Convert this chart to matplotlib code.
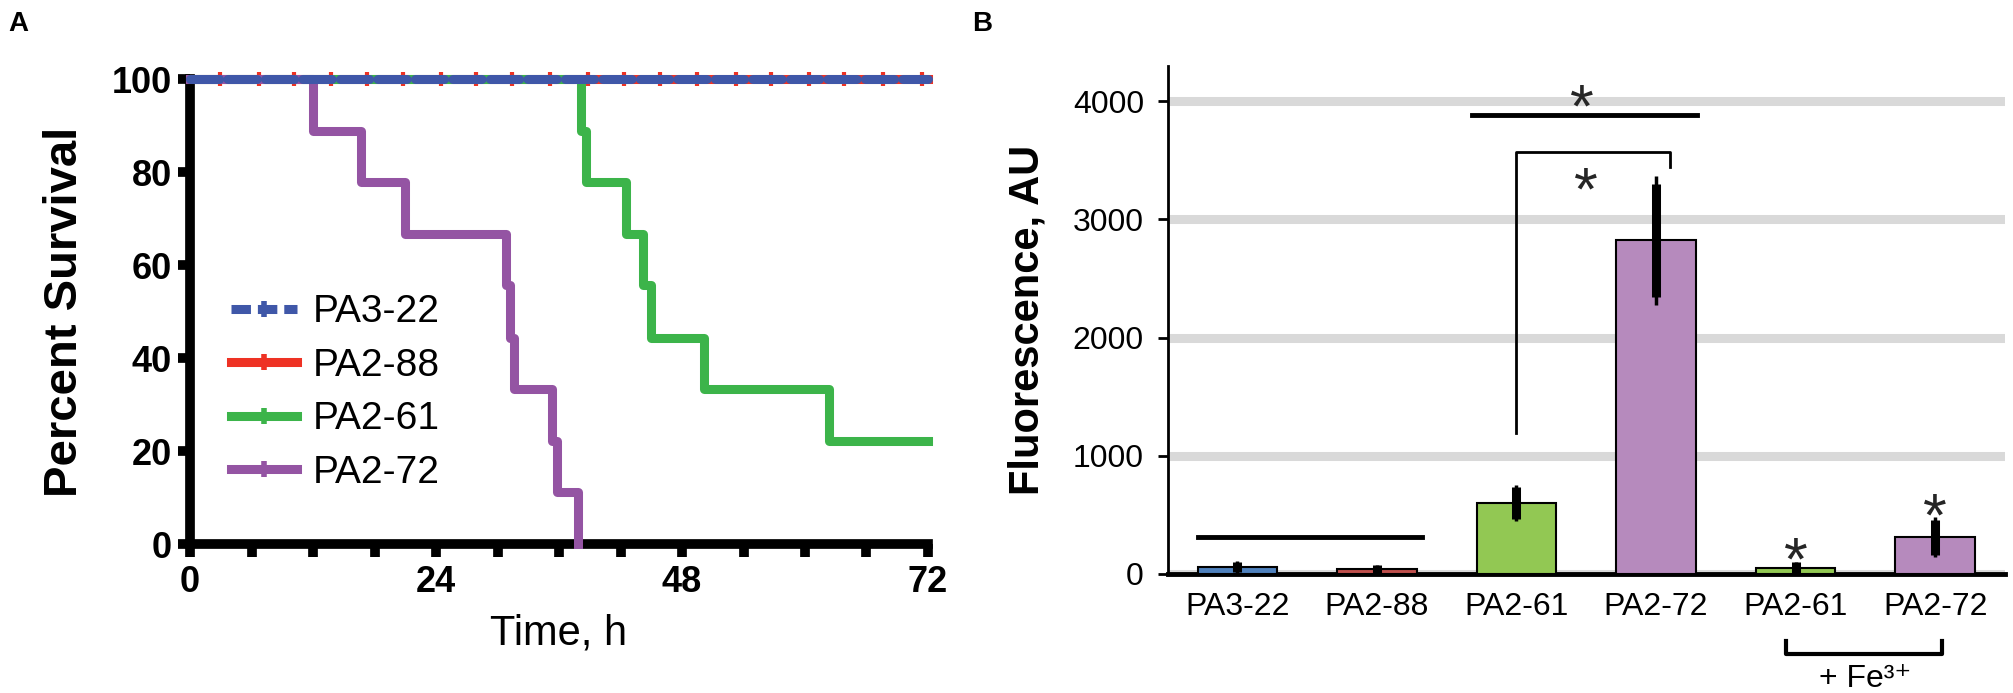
import numpy as np
import matplotlib
matplotlib.use("Agg")
import matplotlib.pyplot as plt
import matplotlib.transforms as mtransforms
from matplotlib.lines import Line2D

plt.rcParams['font.family'] = ['Liberation Sans', 'DejaVu Sans']
plt.rcParams['lines.scale_dashes'] = False

#===================== Panel A data (Kaplan-Meier) =====================
strains = ["PA3-22", "PA2-88", "PA2-61", "PA2-72"]
km_colors = ["#3f57a8", "#ee3224", "#3cb44a", "#9454a3"]

t_pa322 = [0, 72]
s_pa322 = [100, 100]
t_pa288 = [0, 72]
s_pa288 = [100, 100]
# censor ticks visible along the 100% line
cens_pa288 = [2.9, 6.7, 10.1, 13.8, 17.3, 20.8, 24.5, 27.9, 31.4, 35.1,
              38.8, 42.3, 45.9, 49.5, 53.3, 56.7, 60.4, 63.8, 67.6, 71.4]
t_pa261 = [0, 38.1, 38.6, 42.5, 44.2, 45.0, 50.1, 62.3, 72]
s_pa261 = [100, 88.9, 77.8, 66.7, 55.6, 44.4, 33.3, 22.2, 22.2]
t_pa272 = [0, 12.0, 16.7, 21.0, 30.8, 31.2, 31.6, 35.3, 35.8, 37.9]
s_pa272 = [100, 88.9, 77.8, 66.7, 55.6, 44.4, 33.3, 22.2, 11.1, 0]

#===================== Panel B data (fluorescence) =====================
bar_labels = ["PA3-22", "PA2-88", "PA2-61", "PA2-72", "PA2-61", "PA2-72"]
bar_values = [56, 37, 598, 2822, 49, 310]
bar_errors = [50, 38, 155, 545, 55, 168]
bar_colors = ["#4f81bd", "#c0504d", "#92c853", "#b68abd", "#92c853", "#b68abd"]
# significance stars (glyph centres)
star_x = [2.47, 2.5, 4.0, 5.0]
star_y = [4080, 3383, 243, 617]

#===================== Figure =====================
fig = plt.figure(figsize=(20.13, 6.93), dpi=100)

#----- Panel A -----
ax1 = fig.add_axes([0.0944, 0.215, 0.3666, 0.671])
lw = 6.5
ax1.step(t_pa288, s_pa288, where='post', color=km_colors[1], lw=lw, clip_on=False, zorder=3)
ax1.plot(cens_pa288, [100] * len(cens_pa288), ls='none', marker='|', ms=10, mew=3,
         color=km_colors[1], clip_on=False, zorder=3)
l322, = ax1.plot(t_pa322, s_pa322, color=km_colors[0], lw=lw, clip_on=False, zorder=4,
                 dash_capstyle='round')
l322.set_dashes([21, 6])
ax1.step(t_pa261, s_pa261, where='post', color=km_colors[2], lw=lw, clip_on=False, zorder=3)
ax1.step(t_pa272, s_pa272, where='post', color=km_colors[3], lw=lw, clip_on=False, zorder=3)

ax1.set_xlim(0, 72)
ax1.set_ylim(0, 100)
ax1.set_xticks([0, 24, 48, 72])
ax1.set_xticks([6, 12, 18, 30, 36, 42, 54, 60, 66], minor=True)
ax1.set_yticks([0, 20, 40, 60, 80, 100])
for s in ['top', 'right']:
    ax1.spines[s].set_visible(False)
for s in ['left', 'bottom']:
    ax1.spines[s].set_linewidth(7)
ax1.tick_params(which='both', direction='out', width=7, length=9)
ax1.tick_params(axis='x', which='major', pad=6, labelsize=26)
ax1.tick_params(axis='y', pad=4, labelsize=26)
for lab in ax1.get_xticklabels() + ax1.get_yticklabels():
    lab.set_fontweight('bold')
ax1.set_ylabel('Percent Survival', fontsize=34, fontweight='bold', labelpad=18)
ax1.set_xlabel('Time, h', fontsize=30, labelpad=10)

handles = []
for i, name in enumerate(strains):
    h = Line2D([0], [0], color=km_colors[i], lw=lw, marker='|', ms=12, mew=4)
    if i == 0:
        h.set_dashes([14, 5])
    handles.append(h)
ax1.legend(handles, strains, loc='center left', bbox_to_anchor=(0.1148, 0.4336),
           bbox_transform=fig.transFigure, frameon=False, fontsize=28,
           handlelength=1.7, handletextpad=0.4, labelspacing=0.45,
           borderpad=0, borderaxespad=0, numpoints=1)

fig.text(0.004, 0.965, 'A', fontsize=20, fontweight='bold', va='center')

#----- Panel B -----
ax2 = fig.add_axes([0.580, 0.172, 0.416, 0.733])
x = np.arange(len(bar_values))
ax2.bar(x, bar_values, width=0.57, color=bar_colors, edgecolor='black', linewidth=1.5, zorder=3)
ax2.errorbar(x, bar_values, yerr=bar_errors, fmt='none', ecolor='black', elinewidth=2.5, capsize=0, zorder=4)
ax2.errorbar(x, bar_values, yerr=[e * 0.88 for e in bar_errors], fmt='none', ecolor='black',
             elinewidth=6.5, capsize=0, zorder=4)
ax2.set_xlim(-0.5, 5.5)
ax2.set_ylim(0, 4300)
ax2.set_yticks([0, 1000, 2000, 3000, 4000])
ax2.yaxis.grid(True, color='#d9d9d9', linewidth=6.5, zorder=0)
ax2.set_axisbelow(True)
ax2.set_xticks(x)
ax2.set_xticklabels(bar_labels)
for s in ['top', 'right']:
    ax2.spines[s].set_visible(False)
ax2.spines['left'].set_linewidth(2)
ax2.spines['bottom'].set_linewidth(3.5)
ax2.tick_params(axis='y', direction='out', length=7, width=2, pad=10, labelsize=23)
ax2.tick_params(axis='x', length=0, pad=13, labelsize=23)
ax2.set_ylabel('Fluorescence, AU', fontsize=30, fontweight='bold', labelpad=18)

# significance marks
ax2.plot([-0.28, 1.32], [310, 310], color='black', lw=3.5, zorder=5)
ax2.plot([1.68, 3.29], [3888, 3888], color='black', lw=3.5, zorder=5)
ax2.plot([2.0, 2.0, 3.1, 3.1], [1196, 3570, 3570, 3440], color='black', lw=2, zorder=5)
star_fs = 44
star_tr = mtransforms.offset_copy(ax2.transData, fig=fig, y=-0.57 * star_fs, units='points')
for sx, sy in zip(star_x, star_y):
    ax2.text(sx, sy, '*', fontsize=star_fs, ha='center', va='baseline', color='#262626',
             zorder=6, transform=star_tr)

# + Fe3+ bracket under the last two labels
ax2.plot([3.93, 3.93, 5.05, 5.05], [-0.132, -0.157, -0.157, -0.132], color='black', lw=3,
         transform=ax2.get_xaxis_transform(), clip_on=False)
ax2.text(4.5, -0.207, '+ Fe³⁺', fontsize=23, ha='center', va='center',
         transform=ax2.get_xaxis_transform())

fig.text(0.483, 0.965, 'B', fontsize=20, fontweight='bold', va='center')

plt.savefig('out.png', dpi=100)
